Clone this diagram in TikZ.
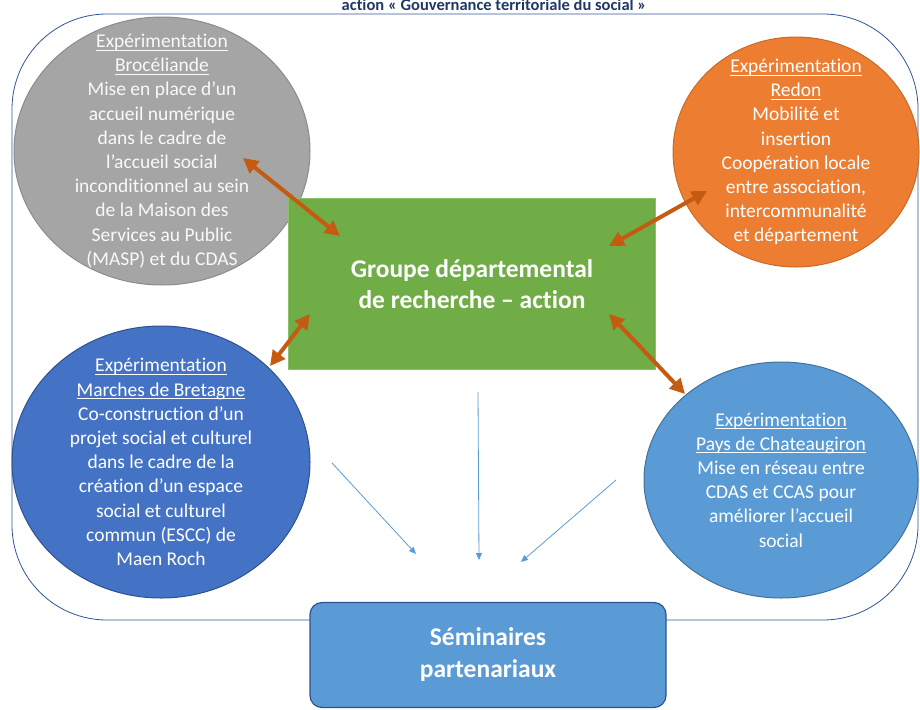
\documentclass[tikz,border=0pt]{standalone}
\usepackage{fontspec}
\setmainfont{Carlito}[Ligatures=NoCommon]
\usetikzlibrary{arrows.meta,shapes.geometric}
\definecolor{cadre}{HTML}{2F5597}
\definecolor{titrebleu}{HTML}{1F3864}
\definecolor{grisfond}{HTML}{A5A5A5}
\definecolor{grisbord}{HTML}{8C8C8C}
\definecolor{orfond}{HTML}{ED7D31}
\definecolor{orbord}{HTML}{C96A28}
\definecolor{bleufond}{HTML}{4472C4}
\definecolor{bleubord}{HTML}{2F528F}
\definecolor{clairfond}{HTML}{5B9BD5}
\definecolor{clairbord}{HTML}{41719C}
\definecolor{vertfond}{HTML}{70AD47}
\definecolor{vertbord}{HTML}{8CBF6A}
\definecolor{fleche}{HTML}{C55A11}
\newcommand{\souligne}[1]{\setbox0\hbox{#1}\leavevmode\rlap{\rule[-3pt]{\wd0}{0.9pt}}\box0}
\begin{document}
\begin{tikzpicture}[x=1pt,y=-1pt,
  exper/.style={ellipse,line width=1pt,inner sep=0pt},
  texte/.style={align=center,text=white,inner sep=0pt,font=\fontsize{19.5pt}{24.2pt}\selectfont},
  liaison/.style={fleche,line width=4pt,{Triangle[length=15pt,width=15pt]}-{Triangle[length=15pt,width=15pt]}},
  retour/.style={clairfond,line width=0.8pt,-{Triangle[length=7pt,width=6pt]}}]
\useasboundingbox (0,0) rectangle (920,709);
\node[anchor=base,titrebleu,font=\bfseries\fontsize{16.5pt}{20pt}\selectfont] (titre) at (494,11)
  {action « Gouvernance territoriale du social »};
% cadre
\draw[cadre,line width=0.8pt,rounded corners=95pt] (12,14) rectangle (918,620);
% experimentations
\node[exper,fill=grisfond,draw=grisbord,minimum width=296pt,minimum height=268pt] (broc) at (162,151) {};
\node[texte,text=white!95!gray] (brocTxt) at (broc)
  {\souligne{Expérimentation}\\ \souligne{Brocéliande}\\ Mise en place d’un\\ accueil numérique\\ dans le cadre de\\
   l’accueil social\\ inconditionnel au sein\\ de la Maison des\\ Services au Public\\ (MASP) et du CDAS};
\node[exper,fill=orfond,draw=orbord,minimum width=246pt,minimum height=230pt] (redon) at (796,152) {};
\node[texte] (redonTxt) at (redon)
  {\souligne{Expérimentation}\\ \souligne{Redon}\\ Mobilité et\\ insertion\\ Coopération locale\\
   entre association,\\ intercommunalité\\ et département};
\node[exper,fill=bleufond,draw=bleubord,minimum width=298pt,minimum height=272pt] (marches) at (161,462) {};
\node[texte] (marchesTxt) at (marches)
  {\souligne{Expérimentation}\\ \souligne{Marches de Bretagne}\\ Co-construction d’un\\ projet social et culturel\\
   dans le cadre de la\\ création d’un espace\\ social et culturel\\ commun (ESCC) de\\ Maen Roch};
\node[exper,fill=clairfond,draw=clairbord,minimum width=274pt,minimum height=236pt] (pays) at (781,480) {};
\node[texte] (paysTxt) at (pays)
  {\souligne{Expérimentation}\\ \souligne{Pays de Chateaugiron}\\ Mise en réseau entre\\ CDAS et CCAS pour\\
   améliorer l’accueil\\ social};
% groupe et seminaires
\node[draw=vertbord,fill=vertfond,line width=1pt,minimum width=367pt,minimum height=171pt,align=center,
  text=white,font=\bfseries\fontsize{25.5pt}{31pt}\selectfont] (groupe) at (472,284)
  {Groupe départemental\\ de recherche – action};
\node[draw=bleubord,fill=clairfond,line width=1.2pt,rounded corners=12pt,minimum width=356pt,minimum height=105pt,
  align=center,text=white,font=\bfseries\fontsize{25.5pt}{32pt}\selectfont] (semin) at (488,655)
  {Séminaires\\ partenariaux};
% fleches
\coordinate (b1) at (243,158); \coordinate (g1) at (340,236);
\coordinate (r1) at (707,191); \coordinate (g2) at (609,246);
\coordinate (m1) at (270,366); \coordinate (g3) at (310,314);
\coordinate (p1) at (685,394); \coordinate (g4) at (609,314);
\draw[liaison] (b1) -- (g1);
\draw[liaison] (r1) -- (g2);
\draw[liaison] (m1) -- (g3);
\draw[liaison] (p1) -- (g4);
\coordinate (sm) at (332,463); \coordinate (s1) at (416,554);
\coordinate (sg) at (478,392); \coordinate (s2) at (479,560);
\coordinate (sp) at (616,480); \coordinate (s3) at (521,562);
\draw[retour] (sm) -- (s1);
\draw[retour] (sg) -- (s2);
\draw[retour] (sp) -- (s3);
\end{tikzpicture}
\end{document}
